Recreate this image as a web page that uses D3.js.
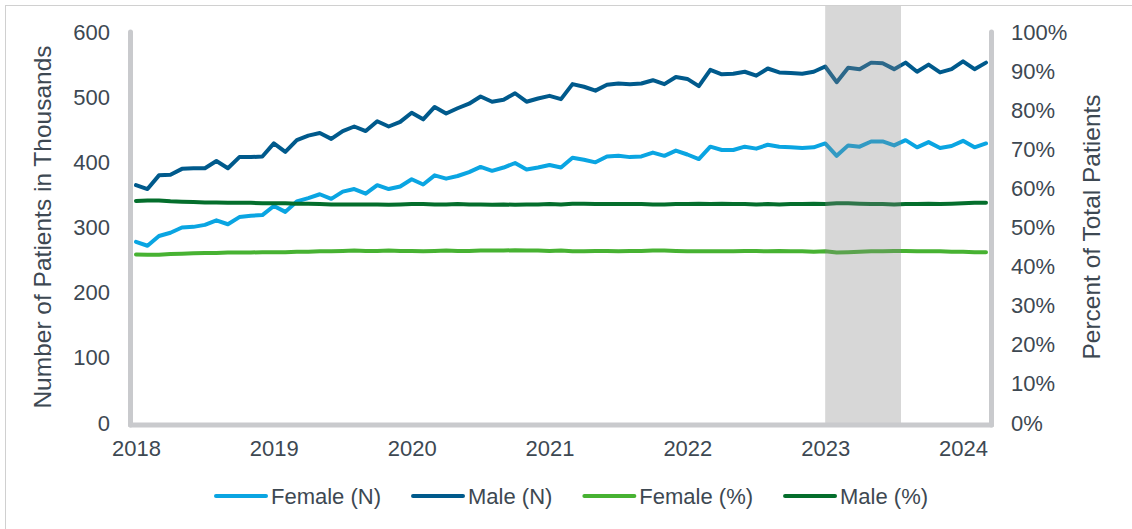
<!DOCTYPE html>
<html>
<head>
<meta charset="utf-8">
<script src="https://cdn.jsdelivr.net/npm/d3@7"></script>
<style>
  html, body { margin: 0; padding: 0; background: #ffffff; }
  svg { display: block; font-family: "Liberation Sans", Arial, sans-serif; }
</style>
</head>
<body>
<svg id="chart" width="1132" height="529"></svg>
<script>
// ---- Data (monthly, Jan 2018 – Mar 2024) ----
const startYear = 2018;
const yearLabels = ["2018", "2019", "2020", "2021", "2022", "2023", "2024"];

// Number of patients (thousands)
const femaleN = [
  278, 272, 287, 292, 300, 301, 304, 311, 305, 316, 318, 319,
  333, 324, 340, 345, 351, 344, 355, 359, 352, 365, 359, 363,
  374, 366, 380, 375, 379, 385, 393, 387, 392, 399, 389, 392,
  396, 392, 407, 404, 400, 409, 410, 408, 409, 415, 410, 418,
  412, 405, 424, 419, 419, 424, 421, 427, 424, 423, 422, 423,
  429, 410, 426, 424, 432, 432, 426, 434, 423, 431, 422, 425,
  433, 423, 429
];
const maleN = [
  365, 359, 380, 381, 390, 391, 391, 402, 391, 408, 408, 409,
  429, 416, 434, 441, 445, 436, 448, 455, 448, 463, 455, 462,
  476, 466, 485, 475, 483, 490, 501, 493, 496, 506, 493, 498,
  502, 497, 520, 516, 510, 519, 521, 520, 521, 526, 520, 531,
  528, 517, 542, 535, 536, 539, 533, 544, 538, 537, 536, 539,
  547, 523, 545, 543, 553, 552, 543, 553, 539, 550, 538, 543,
  555, 543, 553
];
// Percent of total patients
const femalePct = [
  43.1, 43.0, 43.0, 43.2, 43.3, 43.4, 43.5, 43.5, 43.6, 43.6, 43.6, 43.7,
  43.7, 43.7, 43.8, 43.8, 43.9, 43.9, 44.0, 44.1, 44.0, 44.0, 44.1, 44.0,
  44.0, 43.9, 44.0, 44.1, 44.0, 44.0, 44.1, 44.1, 44.1, 44.2, 44.1, 44.1,
  44.0, 44.1, 43.9, 43.9, 44.0, 44.0, 43.9, 44.0, 44.0, 44.1, 44.1, 44.0,
  43.9, 43.9, 43.9, 43.9, 43.9, 44.0, 44.0, 43.9, 44.0, 43.9, 43.9, 43.8,
  43.9, 43.6, 43.7, 43.8, 43.9, 43.9, 44.0, 44.0, 43.9, 43.9, 43.9, 43.8,
  43.8, 43.7, 43.7
];
const malePct = [
  56.8, 56.9, 56.9, 56.7, 56.6, 56.5, 56.4, 56.4, 56.3, 56.3, 56.3, 56.2,
  56.2, 56.2, 56.1, 56.1, 56.0, 55.9, 55.9, 55.9, 55.9, 55.9, 55.8, 55.9,
  56.0, 56.0, 55.9, 55.9, 56.0, 55.9, 55.9, 55.8, 55.9, 55.8, 55.9, 55.9,
  56.0, 55.9, 56.1, 56.1, 56.0, 56.0, 56.0, 56.0, 56.0, 55.9, 55.9, 56.0,
  56.0, 56.1, 56.0, 56.1, 56.0, 56.0, 55.9, 56.0, 55.9, 56.0, 56.0, 56.1,
  56.0, 56.2, 56.2, 56.1, 56.0, 56.0, 55.9, 56.0, 56.0, 56.1, 56.0, 56.1,
  56.2, 56.3, 56.3
];
const leftTicks = [0, 100, 200, 300, 400, 500, 600];
const rightTicks = [0, 10, 20, 30, 40, 50, 60, 70, 80, 90, 100];
// shaded period (month index from Jan 2018): Jan 2023 – mid Jul 2023
const shadePeriod = [60, 66.6];

const seriesNames = ["Female (N)", "Male (N)", "Female (%)", "Male (%)"];
const seriesColors = ["#0aa5e2", "#005a8c", "#47b232", "#046e2c"];

// ---- Layout ----
const W = 1132, H = 529;
const textColor = "#3d4852";
const axisColor = "#c9cacd";
const svg = d3.select("#chart");

svg.append("rect").attr("x", 0).attr("y", 0).attr("width", W).attr("height", H).attr("fill", "#fff");
svg.append("rect").attr("x", 5.5).attr("y", 5.5).attr("width", W + 20).attr("height", H + 20)
  .attr("fill", "none").attr("stroke", "#d0d0d0").attr("stroke-width", 1);

const n = femaleN.length;
const x = d3.scaleLinear().domain([0, n - 1]).range([136, 986]);
const yL = d3.scaleLinear().domain([0, 600]).range([423, 32]);
const yR = d3.scaleLinear().domain([0, 100]).range([423, 32]);

const lineL = d3.line().x((d, i) => x(i)).y(d => yL(d));
const lineR = d3.line().x((d, i) => x(i)).y(d => yR(d));

const seriesData = [
  { v: femaleN, line: lineL },
  { v: maleN, line: lineL },
  { v: femalePct, line: lineR },
  { v: malePct, line: lineR }
];
seriesData.forEach((s, k) => {
  svg.append("path").datum(s.v).attr("d", s.line)
    .attr("fill", "none").attr("stroke", seriesColors[k]).attr("stroke-width", 4)
    .attr("stroke-linejoin", "round").attr("stroke-linecap", "round");
});

// shaded band (drawn over the lines, semi-transparent)
svg.append("rect")
  .attr("x", x(shadePeriod[0])).attr("width", x(shadePeriod[1]) - x(shadePeriod[0]))
  .attr("y", 6).attr("height", yL(0) - 6)
  .attr("fill", "#878787").attr("opacity", 0.33);

// axis bars
const bar = (x1, y1, x2, y2) => svg.append("line")
  .attr("x1", x1).attr("y1", y1).attr("x2", x2).attr("y2", y2)
  .attr("stroke", axisColor).attr("stroke-width", 5).attr("stroke-linecap", "round");
bar(130.5, 32, 130.5, 425);
bar(130.5, 425, 991.5, 425);
bar(991.5, 32, 991.5, 425);

// axes
function styleAxis(g) {
  g.select(".domain").remove();
  g.selectAll("line").remove();
  g.selectAll("text").attr("fill", textColor).style("font-size", "22px")
    .style("font-family", '"Liberation Sans", Arial, sans-serif');
}
svg.append("g").attr("transform", "translate(130,0)")
  .call(d3.axisLeft(yL).tickValues(leftTicks).tickSize(0).tickPadding(20).tickFormat(d3.format("d")))
  .call(styleAxis);
svg.append("g").attr("transform", "translate(992,0)")
  .call(d3.axisRight(yR).tickValues(rightTicks).tickSize(0).tickPadding(19).tickFormat(d => d + "%"))
  .call(styleAxis);
svg.append("g").attr("transform", "translate(0,423)")
  .call(d3.axisBottom(x).tickValues(yearLabels.map((_, i) => i * 12)).tickSize(0).tickPadding(17)
    .tickFormat((d, i) => yearLabels[i]))
  .call(styleAxis);

// axis titles
svg.append("text").attr("transform", "translate(42,227) rotate(-90)")
  .attr("text-anchor", "middle").attr("dominant-baseline", "central")
  .attr("fill", textColor).style("font-size", "24.5px").text("Number of Patients in Thousands");
svg.append("text").attr("transform", "translate(1091,227) rotate(-90)")
  .attr("text-anchor", "middle").attr("dominant-baseline", "central")
  .attr("fill", textColor).style("font-size", "24.5px").text("Percent of Total Patients");

// legend
let lx = 216;
const ly = 496;
seriesNames.forEach((name, k) => {
  svg.append("line").attr("x1", lx).attr("x2", lx + 50).attr("y1", ly).attr("y2", ly)
    .attr("stroke", seriesColors[k]).attr("stroke-width", 4).attr("stroke-linecap", "round");
  const t = svg.append("text").attr("x", lx + 55).attr("y", ly).attr("dy", "0.35em")
    .attr("fill", textColor).style("font-size", "22px").text(name);
  lx = lx + 55 + t.node().getComputedTextLength() + 32;
});
</script>
</body>
</html>
